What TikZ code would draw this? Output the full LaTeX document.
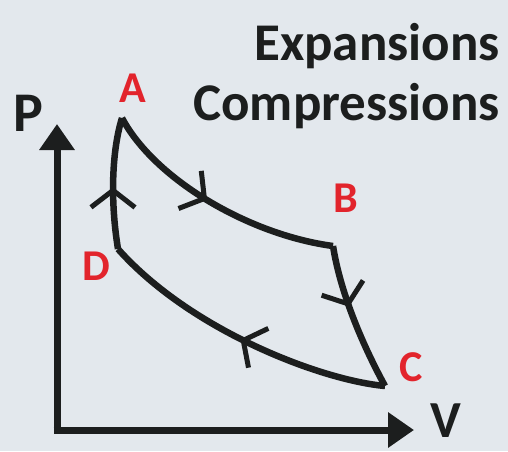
\documentclass[tikz,border=0pt]{standalone}
\usepackage{fontspec}
\setmainfont{Carlito}
\usetikzlibrary{arrows.meta,decorations.markings}

\definecolor{paper}{RGB}{227,232,237}
\definecolor{ink}{RGB}{28,30,30}
\definecolor{ptred}{RGB}{226,36,44}

\begin{document}
\begin{tikzpicture}[
    x=1pt, y=-1pt,
    axis/.style={ink, line width=7pt, -{Triangle[length=26pt,width=34pt]}},
    cycle/.style={ink, line width=6.5pt, line join=round},
    flow/.style={postaction={decorate, decoration={markings,
        mark=at position #1 with {\arrow[ink, line width=5pt]{Straight Barb[length=17pt,width=44pt]}}}}},
    pt/.style={text=ptred, font=\bfseries\fontsize{44}{44}\selectfont, inner sep=0pt},
    axislabel/.style={text=ink, font=\bfseries\fontsize{56}{56}\selectfont, inner sep=0pt},
    title/.style={text=ink, font=\bfseries\fontsize{53}{53}\selectfont, inner sep=0pt, anchor=east}
]
\useasboundingbox[fill=paper] (0,0) rectangle (508,451);

% axes
\coordinate (origin) at (57,430);
\coordinate (ptop) at (57,124);
\coordinate (vend) at (414,430);
\draw[axis] (origin) -- (ptop);
\draw[axis] ([xshift=-3.5pt]origin) -- (vend);
\node[axislabel] (plabel) at (28,113) {P};
\node[axislabel, font=\bfseries\fontsize{52}{52}\selectfont] (vlabel) at (446,421) {V};

% corners of the cycle
\coordinate (a) at (122,118);
\coordinate (b) at (333,246);
\coordinate (c) at (385,386);
\coordinate (d) at (118,249);

\node[pt] (alabel) at (133,88) {A};
\node[pt] (blabel) at (346,198) {B};
\node[pt] (clabel) at (411,367) {C};
\node[pt] (dlabel) at (96,266) {D};

% cycle
\draw[cycle, flow=0.47] (a) .. controls (155,180) and (250,235) .. (b);
\draw[cycle, flow=0.42] (b) .. controls (340,290) and (360,340) .. (c);
\draw[cycle, flow=0.5] (c) .. controls (320,380) and (190,330) .. (d);
\draw[cycle, flow=0.47] (d) .. controls (110,200) and (112,150) .. (a);

% titles
\node[title] (expan) at (500,46) {Expansions};
\node[title] (compr) at (500,106) {Compressions};

\end{tikzpicture}
\end{document}
